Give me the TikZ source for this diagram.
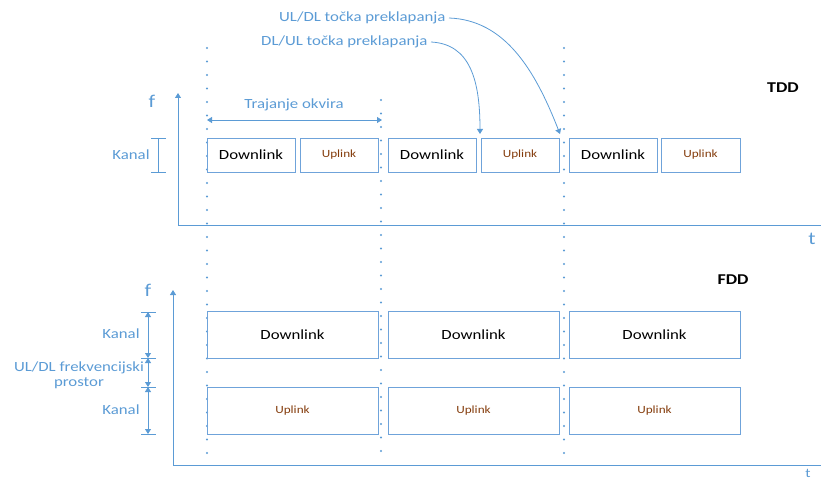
\documentclass[tikz,border=0pt]{standalone}
\usepackage{fontspec}
\setmainfont{Carlito}[FakeStretch=1.2]
\usetikzlibrary{arrows.meta}
\definecolor{lblue}{HTML}{5B9BD5}
\definecolor{bline}{HTML}{6FA3DA}
\definecolor{ulbrown}{HTML}{843C0C}
\tikzset{
  ax/.style={draw=lblue, line width=0.9pt},
  axarrow/.style={ax, -{Triangle[width=6pt,length=5pt]}},
  slot/.style={draw=bline, line width=0.95pt, inner sep=0pt},
  dltext/.style={font=\fontsize{14}{16}\selectfont, text=black},
  ultext/.style={font=\fontsize{11}{13}\selectfont, text=ulbrown},
  blab/.style={font=\fontsize{14}{16}\selectfont, text=lblue},
  axlab/.style={font=\fontsize{18}{20}\selectfont, text=lblue},
  titlelab/.style={font=\bfseries\fontsize{15}{17}\selectfont, text=black},
  dotline/.style={draw=lblue, line width=2.3pt, line cap=round, dash pattern=on 0pt off 13.5pt},
  dimarrow/.style={draw=lblue, line width=0.9pt, {Triangle[width=6pt,length=5pt]}-{Triangle[width=6pt,length=5pt]}},
  tick/.style={draw=lblue, line width=0.9pt},
}
\begin{document}
\begin{tikzpicture}[x=1pt, y=-1pt]
\useasboundingbox (0,0) rectangle (821,481);

% frame boundaries (dotted)
\draw[dotline] (207,48) -- (207,456);
\draw[dotline] (381,100) -- (381,456);
\draw[dotline] (564,48) -- (564,456);

% ---------- TDD ----------
\coordinate (tddO) at (178,225);
\coordinate (tddF) at (178,93);
\coordinate (tddT) at (821,225);
\draw[axarrow] (tddO) -- (tddF);
\draw[ax] (tddO) -- (tddT);
\node[axlab] (tddf) at (152,101) {f};
\node[axlab] (tddt) at (812,239) {t};
\node[titlelab] (tdd) at (783,88) {TDD};

\node[slot, minimum width=88pt, minimum height=34pt, dltext] (d1) at (251,155) {Downlink};
\node[slot, minimum width=78pt, minimum height=34pt, ultext] (u1) at (339,155) {Uplink};
\node[slot, minimum width=88pt, minimum height=34pt, dltext] (d2) at (432,155) {Downlink};
\node[slot, minimum width=78pt, minimum height=34pt, ultext] (u2) at (520,155) {Uplink};
\node[slot, minimum width=88pt, minimum height=34pt, dltext] (d3) at (613,155) {Downlink};
\node[slot, minimum width=79pt, minimum height=34pt, ultext] (u3) at (700.5,155) {Uplink};

% channel width marker
\coordinate (kt) at (158,138);
\coordinate (kb) at (158,172);
\draw[tick] (kt) -- (kb);
\draw[tick] (151,138) -- (166,138);
\draw[tick] (151,172) -- (166,172);
\node[blab] (kanal0) at (131,155) {Kanal};

% frame duration
\coordinate (fa) at (207,120);
\coordinate (fb) at (382,120);
\draw[dimarrow] (fa) -- (fb);
\node[blab] (traj) at (294,105) {Trajanje okvira};

% switching points
\node[blab, anchor=east] (uldl) at (449,18) {UL/DL točka preklapanja};
\node[blab, anchor=east] (dlul) at (431,42) {DL/UL točka preklapanja};
\coordinate (sw1) at (560,134);
\coordinate (sw2) at (480,134);
\draw[axarrow, line width=0.8pt] (uldl.east) .. controls (505,20) and (535,70) .. (sw1);
\draw[axarrow, line width=0.8pt] (dlul.east) .. controls (470,44) and (480,80) .. (sw2);

% ---------- FDD ----------
\coordinate (fddO) at (173,465);
\coordinate (fddF) at (173,290);
\coordinate (fddT) at (821,465);
\draw[axarrow] (fddO) -- (fddF);
\draw[ax] (fddO) -- (fddT);
\node[axlab] (fddf) at (148,290) {f};
\node[axlab, font=\fontsize{13}{15}\selectfont, inner sep=0pt] (fddt) at (808,473) {t};
\node[titlelab] (fdd) at (733,280) {FDD};

\node[slot, minimum width=171pt, minimum height=47pt, dltext] (fd1) at (292.5,334.5) {Downlink};
\node[slot, minimum width=171pt, minimum height=47pt, dltext] (fd2) at (473.5,334.5) {Downlink};
\node[slot, minimum width=171pt, minimum height=47pt, dltext] (fd3) at (654.5,334.5) {Downlink};
\node[slot, minimum width=171pt, minimum height=47pt, ultext] (fu1) at (292.5,410.5) {Uplink};
\node[slot, minimum width=171pt, minimum height=47pt, ultext] (fu2) at (473.5,410.5) {Uplink};
\node[slot, minimum width=171pt, minimum height=47pt, ultext] (fu3) at (654.5,410.5) {Uplink};

% frequency dimensions
\coordinate (y1) at (148,312);
\coordinate (y2) at (148,358);
\coordinate (y3) at (148,387);
\coordinate (y4) at (148,434);
\foreach \c in {y1,y2,y3,y4} \draw[tick] ([xshift=-7pt]\c) -- ([xshift=8pt]\c);
\draw[dimarrow] (y1) -- (y2);
\draw[dimarrow] (y2) -- (y3);
\draw[dimarrow] (y3) -- (y4);
\node[blab] (kanal1) at (121,334) {Kanal};
\node[blab] (kanal2) at (121,410) {Kanal};
\node[blab, align=center, inner sep=0pt] (gap) at (79,375.5) {UL/DL frekvencijski\\[-1pt]prostor};
\end{tikzpicture}
\end{document}
